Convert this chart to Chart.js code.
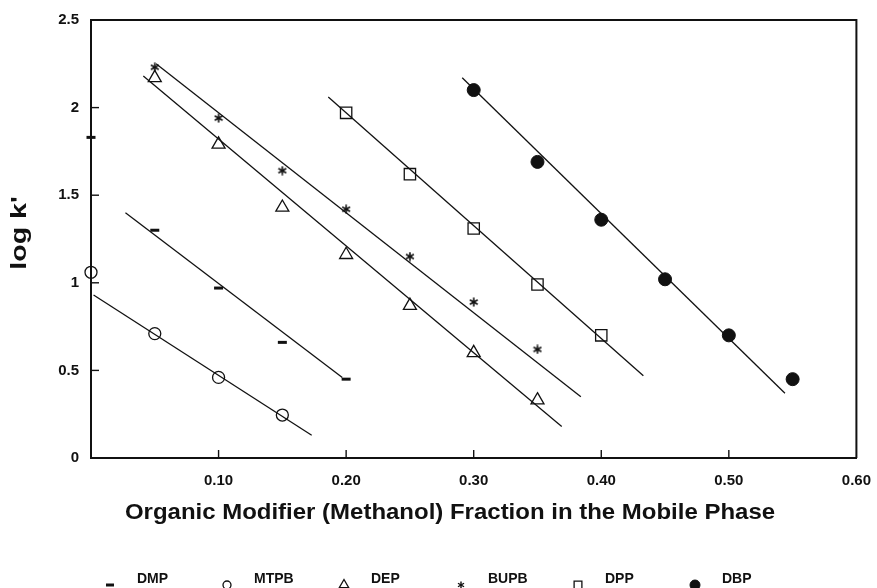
<!DOCTYPE html>
<html>
<head>
<meta charset="utf-8">
<script src="https://cdn.jsdelivr.net/npm/chart.js@4.4.1/dist/chart.umd.min.js"></script>
<style>
  html, body { margin: 0; padding: 0; background: #fff; }
  #wrap { width: 877px; height: 588px; }
</style>
</head>
<body>
<div id="wrap"><canvas id="chart" width="877" height="588"></canvas></div>
<script>
//-----------------------------------------------------------------------------
// data
//-----------------------------------------------------------------------------
const seriesNames = ['DMP', 'MTPB', 'DEP', 'BUPB', 'DPP', 'DBP'];

const dmpX  = [0, 0.05, 0.10, 0.15, 0.20];
const dmpY  = [1.83, 1.30, 0.97, 0.66, 0.45];
const mtpbX = [0, 0.05, 0.10, 0.15];
const mtpbY = [1.06, 0.71, 0.46, 0.245];
const depX  = [0.05, 0.10, 0.15, 0.20, 0.25, 0.30, 0.35];
const depY  = [2.17, 1.79, 1.43, 1.16, 0.87, 0.60, 0.33];
const bupbX = [0.05, 0.10, 0.15, 0.20, 0.25, 0.30, 0.35];
const bupbY = [2.23, 1.94, 1.64, 1.42, 1.15, 0.89, 0.62];
const dppX  = [0.20, 0.25, 0.30, 0.35, 0.40];
const dppY  = [1.97, 1.62, 1.31, 0.99, 0.70];
const dbpX  = [0.30, 0.35, 0.40, 0.45, 0.50, 0.55];
const dbpY  = [2.10, 1.69, 1.36, 1.02, 0.70, 0.45];

// fitted regression lines (end points)
const dmpFitX  = [0.027, 0.197];
const dmpFitY  = [1.40, 0.46];
const mtpbFitX = [0.002, 0.173];
const mtpbFitY = [0.93, 0.13];
const depFitX  = [0.041, 0.369];
const depFitY  = [2.18, 0.18];
const bupbFitX = [0.051, 0.384];
const bupbFitY = [2.25, 0.35];
const dppFitX  = [0.186, 0.433];
const dppFitY  = [2.06, 0.47];
const dbpFitX  = [0.291, 0.544];
const dbpFitY  = [2.17, 0.37];

const xTicks      = [0, 0.1, 0.2, 0.3, 0.4, 0.5, 0.6];
const xTickLabels = ['', '0.10', '0.20', '0.30', '0.40', '0.50', '0.60'];
const yTicks      = [0, 0.5, 1, 1.5, 2, 2.5];
const yTickLabels = ['0', '0.5', '1', '1.5', '2', '2.5'];

const xTitle = 'Organic Modifier (Methanol) Fraction in the Mobile Phase';
const yTitle = "log k'";

const INK = '#111';
const FONT = '"Liberation Sans", Arial, Helvetica, sans-serif';

Chart.defaults.font.family = FONT;
Chart.defaults.color = INK;

function toPoints(xs, ys) {
    return xs.map((x, i) => ({ x: x, y: ys[i] }));
}

// little 6 arm asterisk like the one in the figure
function makeAsterisk(size, lw) {
    const c = document.createElement('canvas');
    c.width = size;
    c.height = size;
    const g = c.getContext('2d');
    g.strokeStyle = INK;
    g.lineWidth = lw;
    const r = size / 2 - 0.5, cx = size / 2, cy = size / 2;
    for (let k = 0; k < 3; k++) {
        const a = Math.PI / 2 + k * Math.PI / 3;
        g.beginPath();
        g.moveTo(cx - r * Math.cos(a), cy - r * Math.sin(a));
        g.lineTo(cx + r * Math.cos(a), cy + r * Math.sin(a));
        g.stroke();
    }
    return c;
}

const starBig   = makeAsterisk(10, 1.6);
const starSmall = makeAsterisk(8, 1.4);

// marker styles for the points (plot) and the legend
const markers = [
    { style: 'line',     radius: 4.5, width: 3,   fill: INK,           lr: 4,   lw: 3 },
    { style: 'circle',   radius: 6,   width: 1.3, fill: 'transparent', lr: 4,   lw: 1.3 },
    { style: 'triangle', radius: 7.5, width: 1.3, fill: 'transparent', lr: 5.5, lw: 1.3 },
    { style: starBig,    radius: 5,   width: 1,   fill: INK,           lr: 4,   lw: 1, legendStyle: starSmall },
    { style: 'rect',     radius: 8,   width: 1.3, fill: 'transparent', lr: 5.5, lw: 1.3 },
    { style: 'circle',   radius: 6.5, width: 1,   fill: INK,           lr: 5,   lw: 1 }
];

const pointSets = [
    toPoints(dmpX, dmpY), toPoints(mtpbX, mtpbY), toPoints(depX, depY),
    toPoints(bupbX, bupbY), toPoints(dppX, dppY), toPoints(dbpX, dbpY)
];
const fitSets = [
    toPoints(dmpFitX, dmpFitY), toPoints(mtpbFitX, mtpbFitY), toPoints(depFitX, depFitY),
    toPoints(bupbFitX, bupbFitY), toPoints(dppFitX, dppFitY), toPoints(dbpFitX, dbpFitY)
];

const datasets = [];
fitSets.forEach((pts, i) => {
    datasets.push({
        label: seriesNames[i] + ' fit',
        data: pts,
        showLine: true,
        pointRadius: 0,
        borderColor: INK,
        borderWidth: 1.3,
        order: 2
    });
});
pointSets.forEach((pts, i) => {
    const m = markers[i];
    datasets.push({
        label: seriesNames[i],
        data: pts,
        showLine: false,
        pointStyle: m.style,
        pointRadius: m.radius,
        pointBorderWidth: m.width,
        pointBorderColor: INK,
        pointBackgroundColor: m.fill,
        clip: false,
        order: 1
    });
});

//-----------------------------------------------------------------------------
// frame + inward tick marks
//-----------------------------------------------------------------------------
const framePlugin = {
    id: 'frame',
    afterDraw(chart) {
        const { ctx, chartArea: a, scales } = chart;
        ctx.save();
        ctx.strokeStyle = INK;
        ctx.lineWidth = 2;
        ctx.beginPath();
        ctx.moveTo(a.left, a.top);
        ctx.lineTo(a.right, a.top);
        ctx.lineTo(a.right, a.bottom);
        ctx.stroke();

        ctx.lineWidth = 1.4;
        scales.x.ticks.forEach(t => {
            if (t.value <= 0 || t.value >= 0.6) return;
            const px = scales.x.getPixelForValue(t.value);
            ctx.beginPath();
            ctx.moveTo(px, a.bottom);
            ctx.lineTo(px, a.bottom - 8);
            ctx.stroke();
        });
        scales.y.ticks.forEach(t => {
            if (t.value <= 0 || t.value >= 2.5) return;
            const py = scales.y.getPixelForValue(t.value);
            ctx.beginPath();
            ctx.moveTo(a.left, py);
            ctx.lineTo(a.left + 8, py);
            ctx.stroke();
        });
        ctx.restore();
    }
};

//-----------------------------------------------------------------------------
// axis titles - the scanned lettering is a bit wider than Arial, so stretch it
//-----------------------------------------------------------------------------
const titlePlugin = {
    id: 'axisTitles',
    afterDraw(chart) {
        const ctx = chart.ctx;
        ctx.save();
        ctx.fillStyle = INK;
        ctx.textAlign = 'center';
        ctx.textBaseline = 'middle';
        ctx.font = 'bold 22px ' + FONT;
        ctx.translate(450, 513);
        ctx.scale(1.09, 1);
        ctx.fillText(xTitle, 0, 0);
        ctx.restore();

        ctx.save();
        ctx.fillStyle = INK;
        ctx.textAlign = 'center';
        ctx.textBaseline = 'middle';
        ctx.font = 'bold 22px ' + FONT;
        ctx.translate(20, 233);
        ctx.rotate(-Math.PI / 2);
        ctx.scale(1.3, 1);
        ctx.fillText(yTitle, 0, 0);
        ctx.restore();
    }
};

//-----------------------------------------------------------------------------
// legend row at the bottom: marker, then a raised bold name
//-----------------------------------------------------------------------------
const legendPlugin = {
    id: 'bottomLegend',
    afterDraw(chart) {
        const { ctx, chartArea: a } = chart;
        const step = 117;
        const markerY = 585;
        const textY = 579;
        ctx.save();
        seriesNames.forEach((name, i) => {
            const m = markers[i];
            const mx = a.left + 19 + i * step;
            ctx.strokeStyle = INK;
            ctx.fillStyle = m.fill;
            ctx.lineWidth = m.lw;
            Chart.helpers.drawPoint(ctx, {
                pointStyle: m.legendStyle || m.style,
                radius: m.lr,
                borderWidth: m.lw,
                rotation: 0
            }, mx, markerY);

            ctx.fillStyle = INK;
            ctx.font = 'bold 14px ' + FONT;
            ctx.textAlign = 'left';
            ctx.textBaseline = 'middle';
            ctx.fillText(name, mx + 27, textY);
        });
        ctx.restore();
    }
};

//-----------------------------------------------------------------------------
// chart
//-----------------------------------------------------------------------------
const ctx = document.getElementById('chart').getContext('2d');
new Chart(ctx, {
    type: 'scatter',
    data: { datasets: datasets },
    options: {
        responsive: false,
        animation: false,
        layout: {
            padding: { top: 20, right: 18, left: 0, bottom: 0 }
        },
        plugins: {
            legend: { display: false },
            tooltip: { enabled: false }
        },
        scales: {
            x: {
                type: 'linear',
                min: 0,
                max: 0.6,
                afterBuildTicks: scale => { scale.ticks = xTicks.map(v => ({ value: v })); },
                afterFit: scale => { scale.height = 130; },
                grid: { display: false },
                border: { display: true, color: INK, width: 2 },
                ticks: {
                    padding: 6,
                    font: { size: 15, weight: 'bold' },
                    color: INK,
                    maxRotation: 0,
                    autoSkip: false,
                    callback: (value, index) => xTickLabels[index]
                },
                title: { display: false }
            },
            y: {
                type: 'linear',
                min: 0,
                max: 2.5,
                afterBuildTicks: scale => { scale.ticks = yTicks.map(v => ({ value: v })); },
                afterFit: scale => { scale.width = 91; },
                grid: { display: false },
                border: { display: true, color: INK, width: 2 },
                ticks: {
                    padding: 4,
                    font: { size: 15, weight: 'bold' },
                    color: INK,
                    autoSkip: false,
                    callback: (value, index) => yTickLabels[index]
                },
                title: { display: false }
            }
        }
    },
    plugins: [framePlugin, titlePlugin, legendPlugin]
});
</script>
</body>
</html>
